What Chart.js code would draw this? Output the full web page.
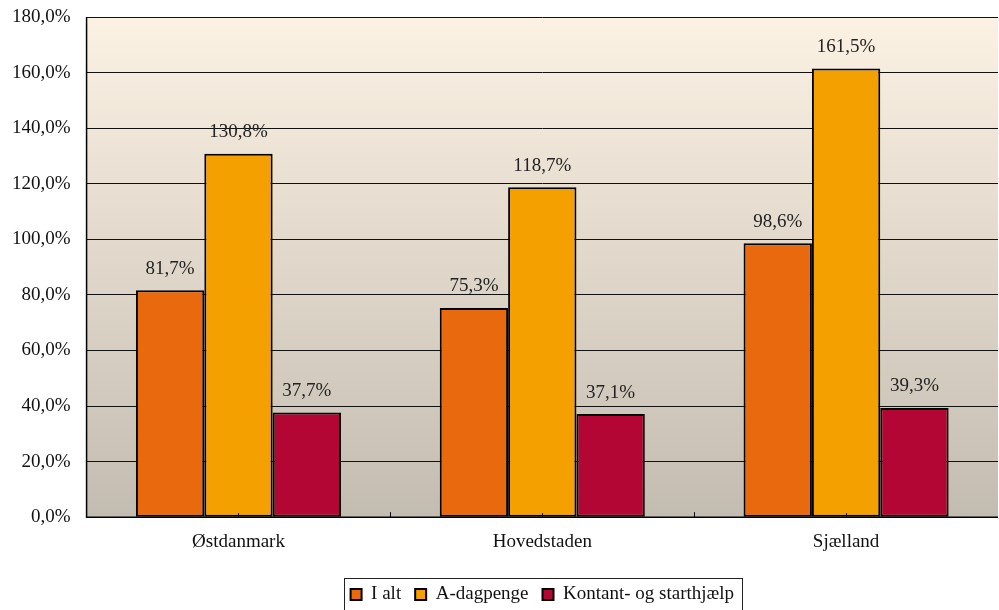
<!DOCTYPE html>
<html>
<head>
<meta charset="utf-8">
<script src="https://cdn.jsdelivr.net/npm/chart.js@4.4.0/dist/chart.umd.min.js"></script>
<style>
  html, body { margin: 0; padding: 0; background: #fff; }
  #wrap { width: 999px; height: 610px; }
</style>
</head>
<body>
<div id="wrap"><canvas id="chart" width="999" height="610"></canvas></div>
<script>
// data
const regions = ['Østdanmark', 'Hovedstaden', 'Sjælland']
const iAlt = [81.7, 75.3, 98.6]
const aDagpenge = [130.8, 118.7, 161.5]
const kontant = [37.7, 37.1, 39.3]
const seriesNames = ['I alt', 'A-dagpenge', 'Kontant- og starthjælp']
const seriesColors = ['#E9690E', '#F4A000', '#B30634']

const FONT = { family: '"Liberation Serif", "Times New Roman", serif', size: 19 }
const pct = (v) => v.toFixed(1).replace('.', ',') + '%'

// cream-to-grey background behind the bars
const bgPlugin = {
  id: 'bg',
  beforeDraw(chart) {
    const { ctx, chartArea: a } = chart
    const g = ctx.createLinearGradient(0, a.top, 0, a.bottom)
    g.addColorStop(0, '#FCF2E4')
    g.addColorStop(1, '#C3BCB0')
    ctx.save()
    ctx.fillStyle = g
    ctx.fillRect(a.left, a.top, a.right - a.left, a.bottom - a.top)
    ctx.restore()
  }
}

// value labels above the bars
const labelPlugin = {
  id: 'valueLabels',
  afterDatasetsDraw(chart) {
    const ctx = chart.ctx
    ctx.save()
    ctx.font = FONT.size + 'px ' + FONT.family
    ctx.fillStyle = '#222'
    ctx.textAlign = 'center'
    ctx.textBaseline = 'bottom'
    chart.data.datasets.forEach((ds, i) => {
      chart.getDatasetMeta(i).data.forEach((bar, j) => {
        ctx.fillText(pct(ds.data[j]), bar.x, bar.y - 12)
      })
    })
    ctx.restore()
  }
}

// axis lines, small inside ticks and the box round the legend
const framePlugin = {
  id: 'frame',
  afterDraw(chart) {
    const { ctx, chartArea: a } = chart
    const x = chart.scales.x
    ctx.save()
    ctx.strokeStyle = '#000'
    ctx.lineWidth = 1.5
    ctx.beginPath()
    ctx.moveTo(a.left, a.top)
    ctx.lineTo(a.left, a.bottom)
    ctx.lineTo(a.right, a.bottom)
    ctx.stroke()
    ctx.lineWidth = 1
    ctx.beginPath()
    for (let i = 0; i < regions.length; i++) {
      const c = x.getPixelForValue(i)
      const b = c + (x.getPixelForValue(1) - x.getPixelForValue(0)) / 2
      ctx.moveTo(Math.round(c) + 0.5, a.bottom - 4)
      ctx.lineTo(Math.round(c) + 0.5, a.bottom)
      if (i < regions.length - 1) {
        ctx.moveTo(Math.round(b) + 0.5, a.bottom - 5)
        ctx.lineTo(Math.round(b) + 0.5, a.bottom)
      }
    }
    ctx.stroke()

    const boxes = chart.legend.legendHitBoxes
    if (boxes && boxes.length) {
      const l = Math.min(...boxes.map((h) => h.left))
      const r = Math.max(...boxes.map((h) => h.left + h.width))
      const cy = (boxes[0].top + boxes[0].top + boxes[0].height) / 2
      ctx.strokeStyle = '#222'
      ctx.strokeRect(Math.round(l - 7) + 0.5, Math.round(cy - 17) + 0.5, Math.round(r - l + 15), 40)
    }
    ctx.restore()
  }
}

const ctx = document.getElementById('chart').getContext('2d')
new Chart(ctx, {
  type: 'bar',
  data: {
    labels: regions,
    datasets: [iAlt, aDagpenge, kontant].map((d, i) => ({
      label: seriesNames[i],
      data: d,
      backgroundColor: seriesColors[i],
      borderColor: '#000',
      borderWidth: 2,
      borderSkipped: false,
      barPercentage: 1,
      categoryPercentage: 0.675
    }))
  },
  options: {
    responsive: false,
    animation: false,
    layout: { padding: { left: -4, right: 1, top: 17, bottom: -4 } },
    plugins: {
      tooltip: { enabled: false },
      legend: {
        position: 'bottom',
        fullSize: false,
        labels: {
          font: FONT,
          color: '#111',
          boxWidth: 11,
          boxHeight: 11,
          padding: 14
        }
      }
    },
    scales: {
      x: {
        grid: { display: false },
        border: { display: false },
        ticks: { font: FONT, color: '#111', padding: 5, maxRotation: 0 },
        afterFit: (scale) => { scale.height += 13 }
      },
      y: {
        min: 0,
        max: 180,
        grid: { color: '#111', lineWidth: 1, drawTicks: false },
        border: { display: false },
        ticks: {
          stepSize: 20,
          font: FONT,
          color: '#111',
          padding: 16,
          callback: (v) => pct(v)
        },
        afterFit: (scale) => {
          scale.paddingTop = 0
          scale.paddingBottom = 0
        }
      }
    }
  },
  plugins: [bgPlugin, labelPlugin, framePlugin]
})
</script>
</body>
</html>
